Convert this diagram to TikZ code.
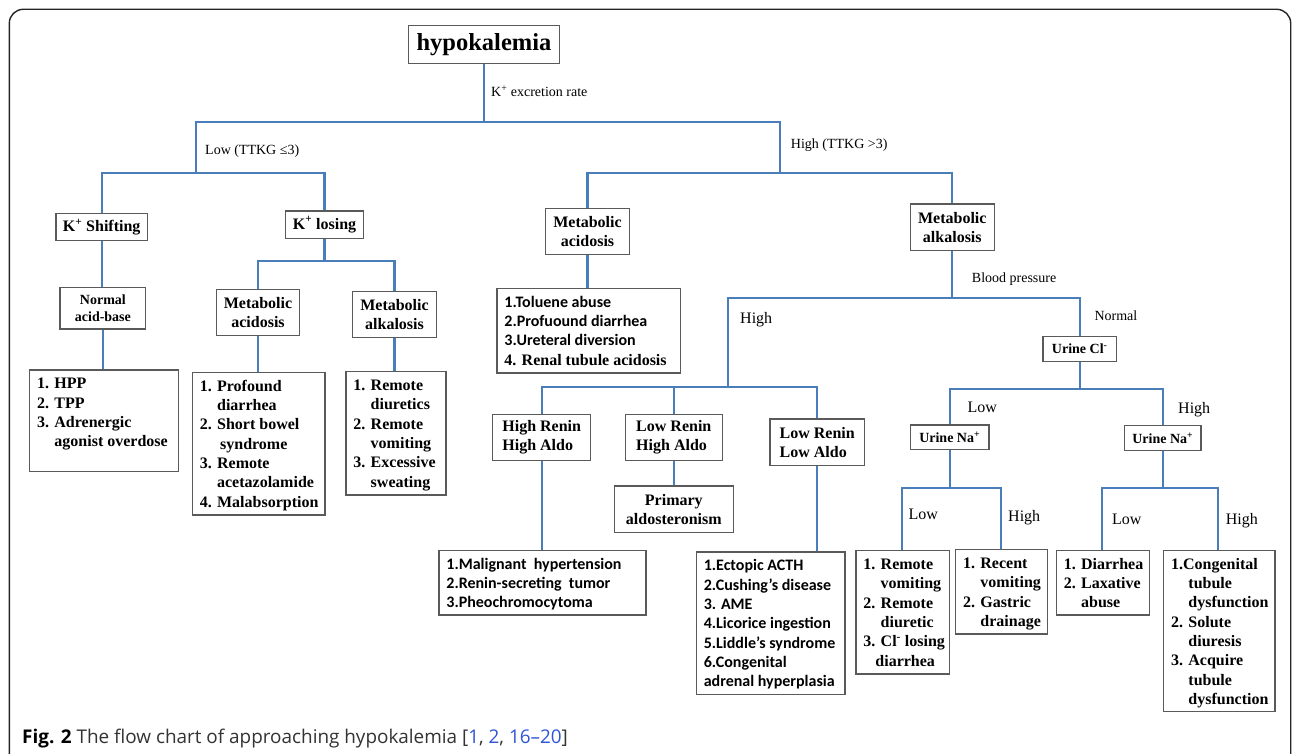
\documentclass[tikz,border=0pt]{standalone}
\usepackage{fontspec}
\setmainfont{Liberation Serif}
\newfontfamily\calf{Carlito}
\newfontfamily\capf{Open Sans}
\usetikzlibrary{backgrounds}
\pgfdeclarelayer{bgfill}
\pgfsetlayers{bgfill,background,main}
\definecolor{connc}{HTML}{4A7EBB}
\definecolor{bord}{HTML}{5A5A5A}
\definecolor{refblue}{HTML}{2F55D4}
\definecolor{captext}{HTML}{333333}
\newcommand\fs[2]{\fontsize{#1}{#2}\selectfont}
\newcommand\hi{\hphantom{1. }}
\newcommand\lnode[6]{\node[lbox] (#1) at (#2,#3) {\parbox[c][\dimexpr #5pt-#3pt\relax][t]{\dimexpr #4pt-#2pt\relax}{\vspace*{5.5pt}\raggedright\leftskip=7.5pt\relax\hyphenpenalty=10000 \strut #6}};}
\tikzset{
  conn/.style={draw=connc, line width=2.3pt, line cap=rect},
  cbox/.style={draw=bord, line width=1.2pt, fill=white, inner sep=0pt, align=center, font=\fs{16}{19.3}\bfseries},
  lbox/.style={draw=bord, line width=1.2pt, fill=white, inner sep=0pt, anchor=north west, font=\fs{16}{19.3}\bfseries},
  lbl/.style={anchor=base west, inner sep=0pt, font=\fs{14}{16}},
  lblb/.style={anchor=base west, inner sep=0pt, font=\fs{16}{18}},
}
\begin{document}
\begin{tikzpicture}[x=1pt,y=-1pt]
\useasboundingbox (0,0) rectangle (1292,754);
\begin{pgfonlayer}{bgfill}
\fill[white] (0,0) rectangle (1292,754);
\end{pgfonlayer}
% frame
\draw[line width=1.4pt, draw=black!85, rounded corners=14pt] (9.3,770) -- (9.3,9.3) -- (1290.7,9.3) -- (1290.7,770);

% category boxes
\node[cbox, minimum width=151pt, minimum height=37.3pt, font=\fs{24.5}{28}\bfseries] (root) at (484,44.5) {hypokalemia};
\node[cbox, minimum width=91.3pt, minimum height=27.4pt] (shift) at (101.7,227) {K\textsuperscript{+} Shifting};
\node[cbox, minimum width=77.6pt, minimum height=27.3pt] (losing) at (324.5,224.7) {K\textsuperscript{+} losing};
\node[cbox, minimum width=85.7pt, minimum height=41.7pt, font=\fs{14}{17.3}\bfseries] (nab) at (102.9,308.2) {Normal\\acid-base};
\node[cbox, minimum width=83.4pt, minimum height=46.4pt] (macid1) at (258,312.5) {Metabolic\\acidosis};
\node[cbox, minimum width=83.6pt, minimum height=46pt] (malk1) at (394.5,314.7) {Metabolic\\alkalosis};
\node[cbox, minimum width=83.6pt, minimum height=46.4pt] (macid2) at (587.5,231.5) {Metabolic\\acidosis};
\node[cbox, minimum width=84pt, minimum height=46.7pt] (malk2) at (952.3,227.3) {Metabolic\\alkalosis};
\node[cbox, align=left, minimum width=98pt, minimum height=46.4pt] (hrha) at (541.7,437.5) {High Renin\\High Aldo};
\node[cbox, align=left, minimum width=97pt, minimum height=46.4pt] (lrha) at (673.8,437.5) {Low Renin\\High Aldo};
\node[cbox, align=left, minimum width=94.3pt, minimum height=46.3pt] (lrla) at (817.2,442.2) {Low Renin\\Low Aldo};
\node[cbox, minimum width=119pt, minimum height=46.7pt] (prim) at (673.8,509.3) {Primary\\aldosteronism};
\node[cbox, minimum width=73.3pt, minimum height=24.6pt, font=\fs{14}{16}\bfseries] (ucl) at (1079.7,349) {Urine Cl\textsuperscript{-}};
\node[cbox, minimum width=78.7pt, minimum height=24.3pt, font=\fs{14}{16}\bfseries] (una1) at (949.7,437.2) {Urine Na\textsuperscript{+}};
\node[cbox, minimum width=76.3pt, minimum height=24.6pt, font=\fs{14}{16}\bfseries] (una2) at (1162.8,438) {Urine Na\textsuperscript{+}};

% list boxes
\lnode{hpp}{29}{369.3}{178}{471}{1. HPP\\2. TPP\\3. Adrenergic\\\hi agonist overdose}
\lnode{prof}{191.7}{371.7}{324.3}{514.3}{1. Profound\\\hi diarrhea\\2. Short bowel\\\hi\hspace*{3pt}syndrome\\3. Remote\\\hi acetazolamide\\4. Malabsorption}
\lnode{rem}{345.3}{371}{445.3}{494.3}{1. Remote\\\hi diuretics\\2. Remote\\\hi vomiting\\3. Excessive\\\hi sweating}
\lnode{tol}{496.3}{287.7}{680}{372.3}{{\calf 1.Toluene abuse\\2.Profuound diarrhea\\3.Ureteral diversion}\\4. Renal tubule acidosis}
\lnode{mal}{438.3}{549.7}{645.3}{614.3}{\calf 1.Malignant\ \ hypertension\\2.Renin-secreting\ \ tumor\\3.Pheochromocytoma}
\lnode{ect}{695.7}{551.3}{844.3}{694}{\calf 1.Ectopic ACTH\\2.Cushing’s disease\\3. AME\\4.Licorice ingestion\\5.Liddle’s syndrome\\6.Congenital\\adrenal hyperplasia}
\lnode{rv}{855.3}{550}{948.7}{673.3}{1. Remote\\\hi vomiting\\2. Remote\\\hi diuretic\\3. Cl\textsuperscript{-} losing\\\hspace*{12pt}diarrhea}
\lnode{rec}{955}{549}{1046.7}{633.3}{1. Recent\\\hi vomiting\\2. Gastric\\\hi drainage}
\lnode{dia}{1055.7}{549.7}{1148.7}{614.3}{1. Diarrhea\\2. Laxative\\\hi abuse}
\lnode{con}{1163}{549.7}{1274.3}{711}{1.Congenital\\\hi tubule\\\hi dysfunction\\2. Solute\\\hi diuresis\\3. Acquire\\\hi tubule\\\hi dysfunction}

% labels
\node[lbl] (lexc) at (491,96.7) {K\textsuperscript{+} excretion rate};
\node[lbl] (llow) at (205,155) {Low (TTKG ≤3)};
\node[lbl] (lhigh) at (790.7,148.3) {High (TTKG >3)};
\node[lbl] (lbp) at (971.7,282.3) {Blood pressure};
\node[lbl] (lnorm) at (1094.3,320.3) {Normal};
\node[lblb] (lhi1) at (740,323.5) {High};
\node[lblb] (llo2) at (967.3,412) {Low};
\node[lblb] (lhi2) at (1178,413) {High};
\node[lblb] (llo3) at (908.3,519.5) {Low};
\node[lblb] (lhi3) at (1008,521) {High};
\node[lblb] (llo4) at (1112,524.5) {Low};
\node[lblb] (lhi4) at (1225.7,524.5) {High};

% caption
\node[anchor=base west, inner sep=0pt, font=\capf\fs{18.9}{21}, text=captext] (cap) at (22,743.5) {\textbf{\color{black}Fig. 2} The flow chart of approaching hypokalemia [\textcolor{refblue}{1}, \textcolor{refblue}{2}, \textcolor{refblue}{16–20}]};

% connectors
\begin{pgfonlayer}{background}
\coordinate (rj) at (484,121.7);
\coordinate (lj) at (195.7,121.7);
\coordinate (hj) at (780,121.7);
\coordinate (ld) at (195.7,173.3);
\coordinate (hd) at (780,173.3);
\draw[conn] (root.south) -- (rj);
\draw[conn] (lj) -- (hj);
\draw[conn] (lj) -- (ld);
\draw[conn] (shift.north) |- (ld) -| (losing.north);
\draw[conn] (shift.south) -- (shift.south |- nab.north);
\draw[conn] (nab.south) -- (nab.south |- hpp.north);
\coordinate (lsd) at (324.5,260.7);
\draw[conn] (losing.south) -- (lsd);
\draw[conn] (macid1.north) |- (lsd) -| (malk1.north);
\draw[conn] (macid1.south) -- (macid1.south |- prof.north);
\draw[conn] (malk1.south) -- (malk1.south |- rem.north);
\draw[conn] (hj) -- (hd);
\draw[conn] (macid2.north) |- (hd) -| (malk2.north);
\draw[conn] (macid2.south) -- (macid2.south |- tol.north);
\coordinate (bpc) at (952.3,298.3);
\coordinate (bph) at (728.3,298.3);
\draw[conn] (malk2.south) -- (bpc);
\draw[conn] (bph) -- (bpc) -| (ucl.north);
\coordinate (hij) at (728.3,387.3);
\draw[conn] (bph) -- (hij);
\draw[conn] (hrha.north) |- (hij) -| (lrla.north);
\draw[conn] (lrha.north) -- (lrha.north |- hij);
\draw[conn] (hrha.south) -- (hrha.south |- mal.north);
\draw[conn] (lrha.south) -- (prim.north);
\draw[conn] (lrla.south) -- (lrla.south |- ect.north);
\coordinate (clj) at (1079.7,388.7);
\draw[conn] (ucl.south) -- (clj);
\draw[conn] (una1.north) |- (clj) -| (una2.north);
\coordinate (n1j) at (949.7,487.7);
\coordinate (n1l) at (902,487.7);
\coordinate (n1h) at (1000.7,487.7);
\draw[conn] (una1.south) -- (n1j);
\draw[conn] (n1l |- rv.north) -- (n1l) -- (n1h) -- (n1h |- rec.north);
\coordinate (n2j) at (1162.8,487.7);
\coordinate (n2l) at (1102,487.7);
\coordinate (n2h) at (1218.3,487.7);
\draw[conn] (una2.south) -- (n2j);
\draw[conn] (n2l |- dia.north) -- (n2l) -- (n2h) -- (n2h |- con.north);
\end{pgfonlayer}
\end{tikzpicture}
\end{document}
